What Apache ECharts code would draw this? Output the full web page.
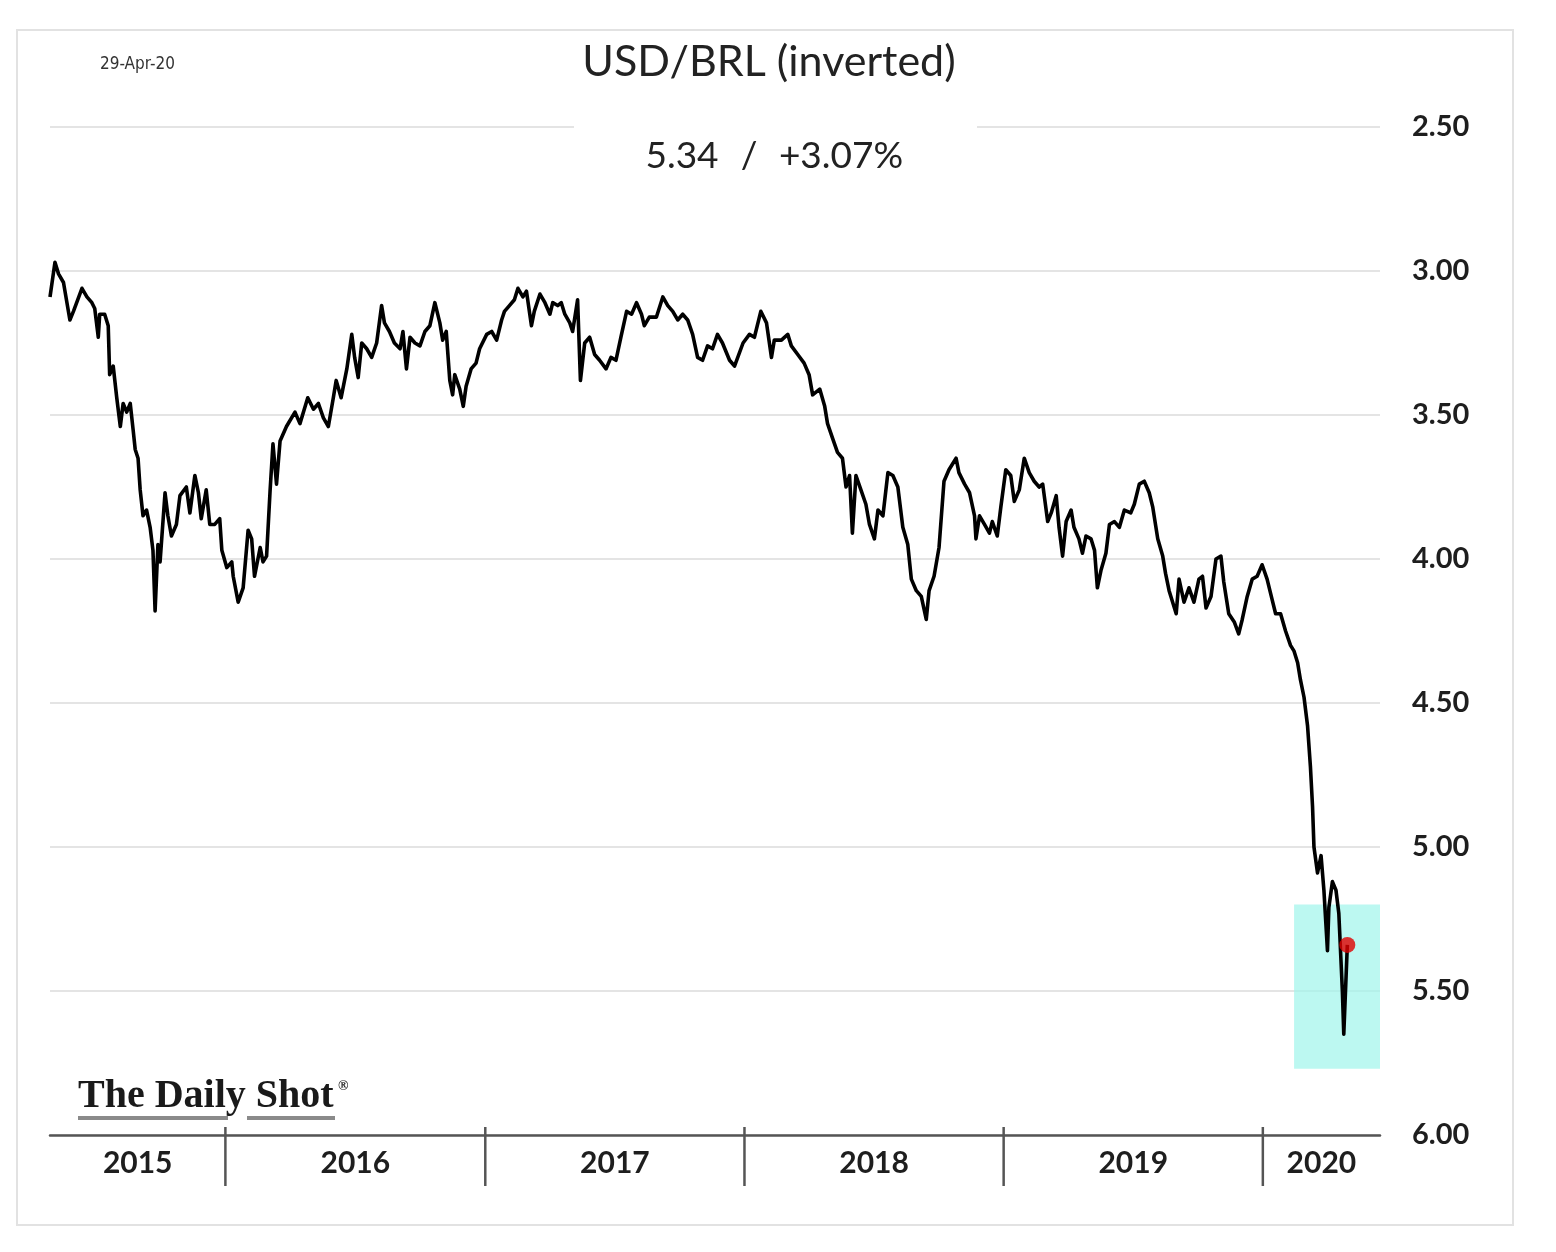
<!DOCTYPE html>
<html>
<head>
<meta charset="utf-8">
<script src="https://cdn.jsdelivr.net/npm/echarts/dist/echarts.min.js"></script>
<style>
  html, body { margin: 0; padding: 0; background: #ffffff; }
  #chart { width: 1556px; height: 1252px; }
</style>
</head>
<body>
<div id="chart"></div>
<script>
// ---- data ----
const startDate = '2015-04-29';      // first observation
const axisStart = '2015-04-29';
const axisEnd = '2020-06-14';
// day offsets from startDate for each observation
const dayOffsets = [
  0, 7, 12, 19, 28, 33, 45, 52, 59, 63, 68, 70, 77, 82, 84, 89, 94, 99, 103, 108,
  113, 117, 120, 124, 127, 131, 136, 141, 145, 148, 152, 155, 162, 166, 171, 178, 183, 192, 197, 204,
  209, 213, 220, 225, 232, 239, 242, 249, 256, 258, 265, 272, 279, 284, 288, 296, 300, 305, 310, 314,
  319, 324,
  333, 345, 352, 363, 371, 378, 385, 392, 399, 403, 410, 418, 425, 429, 434, 439, 446, 453, 460, 467,
  471, 478, 485, 493, 497, 502, 507, 514, 521, 528, 535, 542, 549, 553, 558, 563, 567, 570, 577, 582,
  586, 593, 600, 605, 615, 622, 629, 636,
  640, 647, 654, 659, 666, 671, 678, 682, 690, 697, 704, 708, 715, 720, 725, 732, 736, 743, 747, 753,
  760, 767, 774, 783, 790, 797, 804, 812, 819, 826, 833, 837, 844, 854, 863, 870, 877, 884, 891, 898,
  905, 912, 919, 926, 933, 940, 947, 957, 964,
  976, 985, 992, 1001, 1009, 1016, 1020, 1030, 1039, 1044, 1053, 1062, 1069, 1074, 1084, 1091, 1095, 1102, 1109, 1116,
  1121, 1126, 1130, 1135, 1142, 1149, 1154, 1161, 1166, 1173, 1180, 1187, 1194, 1201, 1208, 1213, 1220, 1227, 1234, 1238,
  1245, 1252, 1259, 1266, 1276, 1280,
  1288, 1295, 1302, 1304, 1309, 1316, 1323, 1327, 1334, 1339, 1346, 1353, 1358, 1365, 1372, 1379, 1386, 1393, 1398, 1405,
  1410, 1417, 1421, 1426, 1431, 1438, 1442, 1449, 1454, 1459, 1466, 1471, 1475, 1480, 1487, 1492, 1499, 1506, 1513, 1522,
  1527, 1534, 1541, 1548, 1553, 1560, 1567, 1571, 1576, 1586, 1590, 1597, 1604, 1611, 1618,
  1623, 1628, 1635, 1642, 1649, 1653, 1660, 1668, 1674, 1679, 1686, 1693, 1700, 1707, 1714, 1721, 1726, 1733, 1740, 1747,
  1752, 1757, 1761, 1766, 1771, 1775, 1778, 1780, 1785, 1790, 1794, 1799, 1801, 1806, 1811, 1815, 1820, 1822, 1827
];
const usdBrl = [
  3.09, 2.97, 3.01, 3.04, 3.17, 3.14, 3.06, 3.09, 3.11, 3.13, 3.23, 3.15, 3.15, 3.19, 3.36, 3.33, 3.44, 3.54, 3.46, 3.49,
  3.46, 3.55, 3.62, 3.65, 3.76, 3.85, 3.83, 3.89, 3.97, 4.18, 3.95, 4.01, 3.77, 3.85, 3.92, 3.88, 3.78, 3.75, 3.84, 3.71,
  3.77, 3.86, 3.76, 3.88, 3.88, 3.86, 3.97, 4.03, 4.01, 4.06, 4.15, 4.10, 3.90, 3.93, 4.06, 3.96, 4.01, 3.99, 3.76, 3.60,
  3.74, 3.59,
  3.54, 3.49, 3.53, 3.44, 3.48, 3.46, 3.51, 3.54, 3.44, 3.38, 3.44, 3.34, 3.22, 3.30, 3.37, 3.25, 3.27, 3.30, 3.25, 3.12,
  3.18, 3.21, 3.25, 3.27, 3.21, 3.34, 3.23, 3.25, 3.26, 3.21, 3.19, 3.11, 3.18, 3.24, 3.21, 3.38, 3.43, 3.36, 3.41, 3.47,
  3.40, 3.34, 3.32, 3.27, 3.22, 3.21, 3.24, 3.17,
  3.14, 3.12, 3.10, 3.06, 3.09, 3.07, 3.19, 3.14, 3.08, 3.11, 3.15, 3.11, 3.12, 3.11, 3.15, 3.18, 3.21, 3.10, 3.38, 3.25,
  3.23, 3.29, 3.31, 3.34, 3.30, 3.31, 3.23, 3.14, 3.15, 3.11, 3.15, 3.19, 3.16, 3.16, 3.09, 3.12, 3.14, 3.17, 3.15, 3.17,
  3.22, 3.30, 3.31, 3.26, 3.27, 3.22, 3.25, 3.31, 3.33,
  3.25, 3.22, 3.23, 3.14, 3.18, 3.30, 3.24, 3.24, 3.22, 3.26, 3.29, 3.32, 3.36, 3.43, 3.41, 3.47, 3.53, 3.58, 3.63, 3.65,
  3.75, 3.71, 3.91, 3.71, 3.76, 3.81, 3.88, 3.93, 3.83, 3.85, 3.70, 3.71, 3.75, 3.89, 3.95, 4.07, 4.11, 4.13, 4.21, 4.11,
  4.06, 3.96, 3.73, 3.69, 3.65, 3.70,
  3.74, 3.77, 3.85, 3.93, 3.85, 3.88, 3.91, 3.87, 3.92, 3.82, 3.69, 3.71, 3.80, 3.76, 3.65, 3.70, 3.73, 3.75, 3.74, 3.87,
  3.84, 3.78, 3.89, 3.99, 3.87, 3.83, 3.89, 3.93, 3.98, 3.92, 3.93, 3.97, 4.10, 4.04, 3.98, 3.88, 3.87, 3.89, 3.83, 3.84,
  3.81, 3.74, 3.73, 3.77, 3.82, 3.93, 3.99, 4.05, 4.11, 4.19, 4.07, 4.15, 4.10, 4.15, 4.07,
  4.06, 4.17, 4.13, 4.00, 3.99, 4.08, 4.19, 4.22, 4.26, 4.21, 4.13, 4.07, 4.06, 4.02, 4.07, 4.14, 4.19, 4.19, 4.25, 4.30,
  4.32, 4.36, 4.42, 4.48, 4.58, 4.72, 4.86, 5.00, 5.09, 5.03, 5.15, 5.36, 5.21, 5.12, 5.15, 5.23, 5.50, 5.65, 5.34
];
const yearLabels = ['2015', '2016', '2017', '2018', '2019', '2020'];
const yearStarts = ['2016-01-01', '2017-01-01', '2018-01-01', '2019-01-01', '2020-01-01'];
const highlightX = ['2020-02-14', '2020-06-14'];
const highlightY = [5.20, 5.77];
const titleText = 'USD/BRL (inverted)';
const subtitleParts = ['5.34', '/', '+3.07%'];
const dateText = '29-Apr-20';

// ---- helpers ----
const DAY = 86400000;
const ts = s => { const p = s.split('-').map(Number); return Date.UTC(p[0], p[1] - 1, p[2]); };
const t0 = ts(startDate);
const xMin = ts(axisStart), xMax = ts(axisEnd);
const series = dayOffsets.map((d, i) => [t0 + d * DAY, usdBrl[i]]);
const last = series[series.length - 1];

const yearMids = yearLabels.map(y => {
  const a = Math.max(Date.UTC(+y, 0, 1), xMin);
  const b = Math.min(Date.UTC(+y + 1, 0, 1), xMax);
  return [(a + b) / 2, 6];
});

const chart = echarts.init(document.getElementById('chart'), null, { renderer: 'canvas' });
const FONT = 'Lato, "Open Sans", "Liberation Sans", sans-serif';

chart.setOption({
  animation: false,
  backgroundColor: '#ffffff',
  grid: { left: 50, right: 176, top: 127, bottom: 117, containLabel: false },
  xAxis: {
    type: 'time', min: xMin, max: xMax,
    axisLine: { show: true, lineStyle: { color: '#555555', width: 2.5 } },
    axisTick: { show: false }, axisLabel: { show: false }, splitLine: { show: false }
  },
  yAxis: {
    type: 'value', inverse: true, min: 2.5, max: 6, interval: 0.5, position: 'right',
    axisLine: { show: false }, axisTick: { show: false },
    axisLabel: {
      margin: 32, formatter: v => v.toFixed(2), color: '#1e1e1e',
      fontFamily: FONT, fontWeight: 'bold', fontSize: 29
    },
    splitLine: { lineStyle: { color: '#e4e4e4', width: 2 } }
  },
  series: [
    {
      type: 'line', data: series, showSymbol: false, z: 5,
      lineStyle: { color: '#000000', width: 3.6, join: 'round' },
      markArea: {
        silent: true,
        itemStyle: { color: 'rgba(160,245,235,0.7)' },
        data: [[{ xAxis: ts(highlightX[0]), yAxis: highlightY[0] }, { xAxis: ts(highlightX[1]), yAxis: highlightY[1] }]]
      }
    },
    {
      type: 'scatter', data: [last], symbolSize: 16, z: 10,
      itemStyle: { color: '#e00000' }
    },
    {
      type: 'custom', silent: true, clip: false, z: 6,
      data: yearStarts.map(s => [ts(s), 6]),
      renderItem: (params, api) => {
        const p = api.coord([api.value(0), api.value(1)]);
        return { type: 'line', shape: { x1: p[0], y1: p[1] - 8, x2: p[0], y2: p[1] + 51 },
                 style: { stroke: '#555555', lineWidth: 2.5 } };
      }
    },
    {
      type: 'custom', silent: true, clip: false, z: 6,
      data: yearMids,
      renderItem: (params, api) => {
        const p = api.coord([api.value(0), api.value(1)]);
        return { type: 'text', x: p[0], y: p[1] + 28,
                 style: { text: yearLabels[params.dataIndex], fill: '#1e1e1e',
                          font: 'bold 30px ' + FONT, align: 'center', verticalAlign: 'middle' } };
      }
    }
  ],
  graphic: [
    { type: 'rect', z: 0, shape: { x: 17, y: 30, width: 1496, height: 1195 },
      style: { fill: 'transparent', stroke: '#e2e2e2', lineWidth: 2 } },
    { type: 'rect', z: 3, shape: { x: 574, y: 118, width: 403, height: 18 }, style: { fill: '#ffffff' } },
    { type: 'text', z: 4, x: 100, y: 65,
      style: { text: dateText, fill: '#333333', font: '17px "DejaVu Sans Condensed", "Liberation Sans", sans-serif',
               verticalAlign: 'middle', align: 'left' } },
    { type: 'text', z: 4, x: 769, y: 62,
      style: { text: titleText, fill: '#222222', font: '43px ' + FONT, align: 'center', verticalAlign: 'middle' } },
    { type: 'text', z: 4, x: 682, y: 156,
      style: { text: subtitleParts[0], fill: '#222222', font: '37px ' + FONT, align: 'center', verticalAlign: 'middle' } },
    { type: 'text', z: 4, x: 749, y: 156,
      style: { text: subtitleParts[1], fill: '#222222', font: '37px ' + FONT, align: 'center', verticalAlign: 'middle' } },
    { type: 'text', z: 4, x: 841, y: 156,
      style: { text: subtitleParts[2], fill: '#222222', font: '37px ' + FONT, align: 'center', verticalAlign: 'middle' } },
    { type: 'text', z: 4, x: 78, y: 1097,
      style: { text: 'The Daily Shot', fill: '#1a1a1a', font: 'bold 40px "Liberation Serif", "DejaVu Serif", serif',
               align: 'left', verticalAlign: 'middle' } },
    { type: 'text', z: 4, x: 338, y: 1086,
      style: { text: '®', fill: '#1a1a1a', font: 'bold 14px "Liberation Serif", serif', align: 'left', verticalAlign: 'middle' } },
    { type: 'rect', z: 4, shape: { x: 78, y: 1116, width: 150, height: 4 }, style: { fill: '#8a8a8a' } },
    { type: 'rect', z: 4, shape: { x: 247, y: 1116, width: 88, height: 4 }, style: { fill: '#8a8a8a' } }
  ]
});
</script>
</body>
</html>
